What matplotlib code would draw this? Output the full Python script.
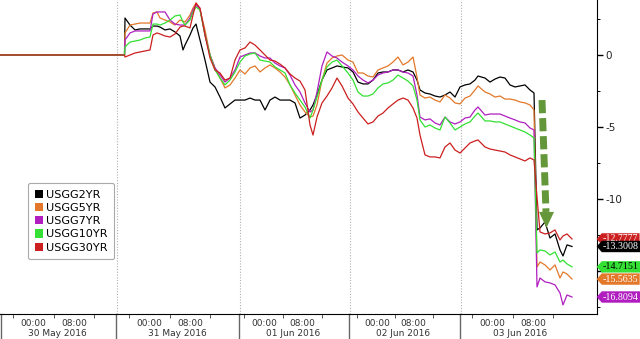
import numpy as np
import matplotlib
matplotlib.use('Agg')
import matplotlib.pyplot as plt
from matplotlib.path import Path
from matplotlib.patches import Polygon, Patch

# time axis: session hours from the start of the 30 May session
t = [0, 24.9, 25.0, 26.0, 27.0, 28.0, 29.0, 30.0, 30.6, 31.4, 32.0, 33.0, 34.0, 35.0, 36.0, 36.6,
     37.0, 38.0, 38.6, 39.2, 40.0, 41.0, 42.0, 43.0, 44.0, 45.0, 46.0, 47.0, 48.0, 49.0, 50.0,
     51.0, 52.0, 53.0, 54.0, 55.0, 56.0, 57.0, 58.0, 59.0, 60.0, 61.0, 62.0, 62.6, 63.4, 64.4,
     65.4, 66.4, 67.4, 68.4, 69.6, 70.6, 71.6, 72.6, 73.6, 74.6, 75.6, 76.6, 77.6, 78.6, 79.6,
     80.6, 81.6, 82.6, 83.4, 84.0, 85.0, 86.0, 87.0, 88.0, 89.0, 90.0, 91.0, 92.0, 93.0, 94.0,
     95.0, 95.6, 97.0, 98.0, 99.0, 100.0, 101.0, 102.0, 103.0, 104.0, 105.0, 106.0, 106.8,
     107.4, 108.0, 109.0, 110.0, 111.0, 112.0, 112.6, 113.4, 114.4]

# change in yield, bp
usgg2 = [0, 0, 2.57, 2.08, 1.74, 1.81, 1.81, 1.81, 2.01, 2.01, 1.94, 1.74, 1.81, 1.60, 1.32, 0.35,
         0.69, 1.39, 1.88, 2.15, 1.04, -0.35, -1.88, -2.22, -2.92, -3.68, -3.40, -3.13, -3.13,
         -3.13, -2.99, -3.13, -3.13, -3.82, -3.13, -2.92, -3.13, -3.13, -3.13, -3.33, -4.38,
         -4.17, -3.82, -3.47, -2.78, -1.74, -1.04, -0.90, -0.76, -0.83, -0.90, -1.18, -1.88,
         -2.01, -2.01, -1.74, -1.25, -1.18, -1.18, -1.04, -1.04, -1.18, -1.04, -1.18, -1.74,
         -2.43, -2.64, -2.71, -2.85, -2.92, -2.78, -2.57, -2.92, -2.22, -2.08, -2.01, -1.74,
         -1.46, -1.60, -1.88, -1.67, -1.53, -1.60, -2.08, -2.22, -2.15, -2.08, -2.43, -2.64,
         -12.15, -12.01, -11.60, -12.71, -12.43, -13.54, -13.96, -13.19, -13.3008]
usgg5 = [0, 0, 1.53, 2.08, 2.15, 2.22, 2.22, 2.22, 2.92, 2.99, 2.57, 2.43, 2.29, 2.08, 2.43, 2.36,
         2.29, 2.78, 3.26, 3.61, 3.13, 1.74, 0, -0.90, -1.60, -2.29, -2.08, -1.60, -1.04, -1.32,
         -0.90, -0.76, -1.18, -0.90, -0.69, -0.90, -1.18, -1.53, -2.08, -2.78, -3.47, -3.96,
         -4.31, -4.24, -3.47, -1.74, -0.56, -0.21, -0.07, 0, -0.35, -0.49, -1.25, -1.25, -1.46,
         -1.53, -1.04, -0.90, -0.76, -0.49, -0.14, -0.69, -0.49, -0.14, -1.53, -2.78, -2.99,
         -2.92, -3.13, -3.26, -2.78, -2.99, -3.33, -3.40, -2.99, -2.85, -2.43, -2.15, -2.57,
         -2.71, -2.92, -2.85, -3.06, -3.06, -3.13, -3.26, -3.33, -3.47, -3.82, -14.72, -14.38,
         -14.58, -14.93, -14.58, -15.49, -15.07, -15.21, -15.5635]
usgg7 = [0, 0, 1.04, 1.53, 1.67, 1.67, 1.67, 1.67, 2.85, 2.99, 2.99, 2.99, 2.43, 2.15, 2.08, 2.08,
         2.08, 2.57, 3.13, 3.47, 3.19, 1.39, 0, -0.90, -1.39, -1.88, -1.60, -1.04, -0.14, 0,
         0.14, 0.14, -0.07, -0.21, -0.21, -0.56, -0.76, -0.90, -1.39, -2.08, -2.57, -3.33,
         -3.96, -3.82, -2.57, -0.76, 0.21, -0.07, -0.21, -0.49, -0.76, -1.04, -1.46, -1.74,
         -1.94, -1.74, -1.39, -1.25, -1.18, -1.04, -1.04, -1.18, -1.25, -1.46, -2.78, -4.31,
         -4.51, -4.44, -4.72, -4.86, -4.31, -4.65, -4.79, -4.65, -4.38, -4.31, -3.82, -3.61,
         -4.17, -4.10, -4.10, -4.10, -4.24, -4.38, -4.51, -4.65, -4.72, -5.07, -5.21, -16.11,
         -15.49, -15.76, -15.83, -15.97, -16.53, -17.36, -16.67, -16.8094]
usgg10 = [0, 0, 0.56, 0.90, 0.97, 1.04, 1.18, 1.25, 2.15, 2.15, 2.08, 2.22, 2.43, 2.71, 2.78, 2.29,
          2.08, 2.43, 2.99, 3.33, 3.13, 1.39, 0, -1.04, -1.60, -2.08, -1.74, -1.18, -0.49, -0.07,
          0.07, 0.14, -0.35, -0.42, -0.49, -0.83, -1.04, -1.25, -2.08, -2.64, -3.13, -3.61,
          -4.38, -3.82, -2.92, -1.74, -0.83, -0.49, -0.35, -0.76, -1.25, -1.74, -2.57, -2.85,
          -2.85, -2.71, -2.29, -2.01, -1.94, -1.74, -1.39, -1.60, -1.81, -2.15, -3.13, -4.51,
          -5.00, -4.86, -5.07, -5.21, -4.31, -4.72, -5.21, -5.00, -4.79, -4.65, -4.24, -4.03,
          -4.58, -4.58, -4.65, -4.65, -4.79, -4.93, -5.07, -5.21, -5.35, -5.56, -5.76, -13.75,
          -13.54, -13.61, -13.89, -13.68, -14.38, -14.24, -14.51, -14.7151]
usgg30 = [0, 0, -0.14, 0, 0.14, 0.21, 0.28, 0.35, 1.39, 1.53, 1.46, 1.32, 1.25, 1.46, 1.94, 2.01,
          2.01, 1.88, 2.78, 3.61, 3.26, 1.39, -0.21, -1.04, -1.25, -1.74, -1.60, -0.35, 0.35,
          0.49, 0.90, 0.69, 0.35, 0, -0.35, -0.42, -0.63, -0.90, -1.32, -1.60, -1.81, -2.43,
          -4.86, -5.56, -4.31, -3.33, -2.85, -2.29, -1.60, -2.15, -2.99, -3.40, -3.96, -4.38,
          -4.79, -4.65, -4.24, -4.03, -3.68, -3.40, -3.13, -2.99, -3.13, -3.68, -4.38, -5.56,
          -6.94, -7.08, -7.08, -7.15, -6.39, -6.11, -6.60, -6.81, -6.46, -6.11, -5.97, -5.90,
          -6.39, -6.53, -6.60, -6.67, -6.74, -6.94, -7.08, -7.22, -7.36, -7.15, -7.29, -9.86,
          -12.29, -12.43, -12.36, -12.15, -12.85, -12.57, -12.43, -12.7777]

names = ['USGG2YR', 'USGG5YR', 'USGG7YR', 'USGG10YR', 'USGG30YR']
series = [usgg2, usgg5, usgg7, usgg10, usgg30]
colors = ['#000000', '#e3782a', '#b01ec0', '#33e033', '#cc1f1f']
tag_text = ['-13.3008', '-15.5635', '-16.8094', '-14.7151', '-12.7777']
tag_fg = ['white', 'white', 'white', 'black', 'white']

# x axis layout (session hours)
day_starts = [0.2, 23.2, 47.8, 69.8, 92.0]
day_names = ['30 May 2016', '31 May 2016', '01 Jun 2016', '02 Jun 2016', '03 Jun 2016']
midnight = [6.6, 29.8, 52.8, 75.4, 98.4]
eight_am = [14.8, 38.0, 60.4, 82.6, 106.6]
date_pos = [11.4, 35.4, 58.6, 80.6, 104.0]


def tag_box(x0, y0, width, height, mutation_size):
    pad = 0.12 * mutation_size
    x0, y0 = x0 - pad, y0 - pad
    w, h = width + 2 * pad, height + 2 * pad
    tip = h * 0.45
    verts = [(x0 - tip, y0 + h / 2), (x0, y0), (x0 + w, y0), (x0 + w, y0 + h),
             (x0, y0 + h), (x0 - tip, y0 + h / 2)]
    return Path(verts, closed=True)


fig = plt.figure(figsize=(6.4, 3.39), dpi=100)
ax = fig.add_axes([0, 25 / 339, 597 / 640, 314 / 339])

for s, c in zip(series, colors):
    ax.plot(t, s, color=c, lw=0.9, zorder=3)

ax.set_xlim(0, 119.4)
ax.set_ylim(-17.99, 3.82)

for sp in ['top', 'left']:
    ax.spines[sp].set_visible(False)
for sp in ['bottom', 'right']:
    ax.spines[sp].set_linewidth(0.8)

# day grid and separators
for d in day_starts[1:]:
    ax.axvline(d + 0.2, color='#b0b0b0', ls=(0, (1, 1.5)), lw=0.8, zorder=1)
for d in day_starts:
    ax.axvline(d, ymin=-25 / 314, ymax=0, color='#666666', lw=1.0, clip_on=False)

ax.set_xticks(midnight + eight_am)
ax.set_xticklabels(['00:00'] * 5 + ['08:00'] * 5, fontsize=6.5, color='#333333')
ax.tick_params(axis='x', which='major', length=0, pad=3.5)
minor = [m - 4 for m in midnight] + [(a + b) / 2 for a, b in zip(midnight, eight_am)] + \
        [e + 4 for e in eight_am]
ax.set_xticks(minor, minor=True)
ax.tick_params(axis='x', which='minor', length=3, width=0.7, color='#555555')
for p, n in zip(date_pos, day_names):
    ax.text(p, -19 / 314, n, transform=ax.get_xaxis_transform(), ha='center', va='center',
            fontsize=6.5, color='#333333')

# right value axis
ax.yaxis.tick_right()
ax.set_yticks([0, -5, -10, -15])
ax.set_yticklabels(['0', '-5', '-10', ''], fontsize=7.5, color='#222222')
ax.set_yticks([2.5, -2.5, -7.5, -12.5, -17.5], minor=True)
ax.tick_params(axis='y', which='major', length=4, width=1.0, pad=2)
ax.tick_params(axis='y', which='minor', length=2.5, width=0.7)

# last-value tags
order = [4, 0, 3, 1, 2]
for z, i in enumerate(order):
    ax.annotate(tag_text[i], xy=(1.0, series[i][-1]), xycoords=('axes fraction', 'data'),
                xytext=(6, 0), textcoords='offset pixels', ha='left', va='center',
                fontsize=7.2, family='Liberation Serif', color=tag_fg[i],
                bbox=dict(boxstyle=tag_box, fc=colors[i], ec='none'),
                annotation_clip=False, zorder=10 + z)

# green dashed arrow
arrow_c = '#64963a'
ax.plot([108.4, 109.2], [-3.13, -10.9], color=arrow_c, lw=5, ls=(0, (1.9, 0.7)),
        solid_capstyle='butt', dash_capstyle='butt', zorder=5)
ax.add_patch(Polygon([(107.8, -10.9), (110.8, -10.9), (109.3, -12.0)], closed=True,
                     fc=arrow_c, ec='none', zorder=5))

# legend
handles = [Patch(fc=c, ec='none') for c in colors]
leg = ax.legend(handles, names, loc='upper left', bbox_to_anchor=(28 / 597, 131 / 314),
                borderaxespad=0, fontsize=8.1, handlelength=0.75, handleheight=0.75,
                handletextpad=0.25, labelspacing=0.28, borderpad=0.6, frameon=True,
                fancybox=True, framealpha=1, edgecolor='#aaaaaa')
leg.get_frame().set_linewidth(0.8)

fig.savefig('out.png', dpi=100)
